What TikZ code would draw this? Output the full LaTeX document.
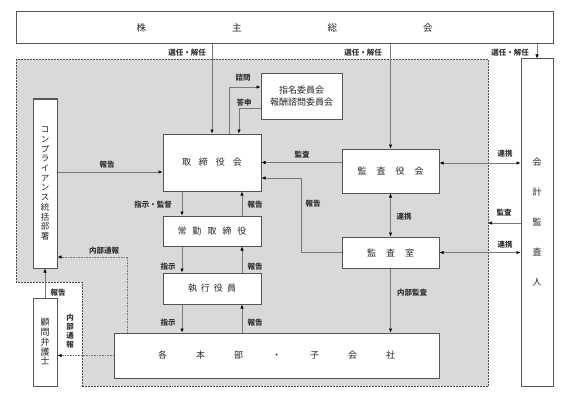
\documentclass[tikz,border=0pt]{standalone}
\usepackage{fontspec}
\setmainfont{Noto Sans CJK JP}
\usetikzlibrary{arrows.meta}
\definecolor{bggray}{RGB}{217,217,217}
\definecolor{boxline}{RGB}{85,85,85}
\definecolor{conline}{RGB}{120,120,120}
\begin{document}
\begin{tikzpicture}[x=1pt,y=-1pt,
  box/.style={draw=boxline, line width=1pt, fill=white, inner sep=0pt,
    font=\fontsize{9}{10}\selectfont, text=black!85},
  con/.style={draw=conline, line width=0.6pt},
  arr/.style={con, -{Latex[length=4pt,width=3.4pt,color=black]}},
  darr/.style={con, {Latex[length=4pt,width=3.4pt,color=black]}-{Latex[length=4pt,width=3.4pt,color=black]}},
  dotarr/.style={con, densely dotted, -{Latex[length=4pt,width=3.4pt,color=black]}},
  lbl/.style={font=\fontsize{7.5}{8}\selectfont\bfseries, text=black!80, inner sep=0pt},
  vlbl/.style={font=\fontsize{7.5}{9}\selectfont\bfseries, text=black!80, inner sep=0pt, align=center}]
\useasboundingbox (0,0) rectangle (569,401);
% gray region
\path[fill=bggray, draw=black!70, densely dotted, line width=0.5pt]
  (16,59) -- (488,59) -- (488,386) -- (82,386) -- (82,282) -- (16,282) -- cycle;
% boxes
\node[box, minimum width=537pt, minimum height=32pt, font=\fontsize{9.5}{10}\selectfont] (kabu) at (284.5,28)
  {株\hspace{86pt}主\hspace{86pt}総\hspace{86pt}会};
\node[box, minimum width=32pt, minimum height=327pt, align=center, font=\fontsize{9}{30}\selectfont] (kaikei) at (537,222.5)
  {会\\計\\監\\査\\人};
\node[box, minimum width=24pt, minimum height=169pt, align=center, font=\fontsize{8.5}{9.7}\selectfont] (comp) at (45,183.5)
  {コ\\ン\\プ\\ラ\\イ\\ア\\ン\\ス\\統\\括\\部\\署};
\node[box, minimum width=98pt, minimum height=57pt] (tori) at (212,162.5)
  {取\hspace{8pt}締\hspace{8pt}役\hspace{8pt}会};
\node[box, minimum width=81pt, minimum height=45pt, align=center, font=\fontsize{9}{12}\selectfont] (shimei) at (301.5,96.5)
  {指名委員会\\報酬諮問委員会};
\node[box, minimum width=97pt, minimum height=44pt] (kansa) at (390.5,171)
  {監\hspace{10pt}査\hspace{10pt}役\hspace{10pt}会};
\node[box, minimum width=97pt, minimum height=31pt] (kshitsu) at (390.5,252.5)
  {監\hspace{10pt}査\hspace{10pt}室};
\node[box, minimum width=98pt, minimum height=30pt] (jokin) at (212,231)
  {常\hspace{6pt}勤\hspace{6pt}取\hspace{6pt}締\hspace{6pt}役};
\node[box, minimum width=98pt, minimum height=31pt] (shikko) at (212,288.5)
  {執\hspace{4pt}行\hspace{4pt}役\hspace{4pt}員};
\node[box, minimum width=325pt, minimum height=45pt] (kaku) at (276.5,355.5)
  {各\hspace{29pt}本\hspace{29pt}部\hspace{29pt}・\hspace{29pt}子\hspace{29pt}会\hspace{29pt}社};
\node[box, minimum width=24pt, minimum height=88pt, align=center, font=\fontsize{9}{9.75}\selectfont] (komon) at (45,342)
  {顧\\問\\弁\\護\\士};
% coordinates
\coordinate (t1) at ([yshift=-9.5pt]tori.west);
\coordinate (t2) at ([yshift=-15.5pt]tori.east);
\coordinate (k1) at ([yshift=8pt]kansa.east);
\coordinate (g1) at (488,223);
\coordinate (c1) at ([yshift=-73.5pt]comp.east);
% connectors from shareholders
\draw[arr] (kabu.south -| tori.north) -- (tori.north);
\draw[arr] (kabu.south -| kansa.north) -- (kansa.north);
\draw[arr] (kabu.south -| kaikei.north) -- (kaikei.north);
\node[lbl, anchor=east] (l1) at (206,53) {選任・解任};
\node[lbl, anchor=east] (l2) at (382,53) {選任・解任};
\node[lbl, anchor=east] (l3) at (529,53) {選任・解任};
% committee
\draw[arr] ([xshift=17pt]tori.north) |- ([yshift=9.5pt]shimei.west);
\draw[arr] ([yshift=-11.5pt]shimei.west) -| ([xshift=27pt]tori.north);
\node[lbl] (l4) at (243,78) {諮問};
\node[lbl] (l5) at (244,103) {答申};
% compliance report
\draw[arr] (comp.east |- t1) -- (t1);
\node[lbl] (l6) at (107,165) {報告};
% audit
\draw[arr] (kansa.west |- tori.east) -- (tori.east);
\node[lbl] (l7) at (302,155) {監査};
\draw[arr] (kshitsu.west) -- ++(-40pt,0) |- (t2);
\node[lbl] (l8) at (313,204) {報告};
\draw[darr] (kansa.south) -- (kshitsu.north);
\node[lbl] (l9) at (404,217) {連携};
\draw[darr] (k1) -- (k1 -| kaikei.west);
\node[lbl] (l10) at (505,154) {連携};
\draw[arr] (kaikei.west |- g1) -- (g1);
\node[lbl] (l11) at (504,213) {監査};
\draw[darr] (kshitsu.east) -- (kshitsu.east -| kaikei.west);
\node[lbl] (l12) at (505,245) {連携};
\draw[arr] (kshitsu.south) -- (kshitsu.south |- kaku.north);
\node[lbl] (l13) at (412,293) {内部監査};
% chain of command
\draw[arr] ([xshift=-30pt]tori.south) -- ([xshift=-30pt]jokin.north);
\draw[arr] ([xshift=30pt]jokin.north) -- ([xshift=30pt]tori.south);
\node[lbl] (l14) at (153,205) {指示・監督};
\node[lbl] (l15) at (255,205) {報告};
\draw[arr] ([xshift=-30pt]jokin.south) -- ([xshift=-30pt]shikko.north);
\draw[arr] ([xshift=30pt]shikko.north) -- ([xshift=30pt]jokin.south);
\node[lbl] (l16) at (168,267) {指示};
\node[lbl] (l17) at (255,267) {報告};
\draw[arr] ([xshift=-30pt]shikko.south) -- ([xshift=-30pt]shikko.south |- kaku.north);
\draw[arr] ([xshift=30pt]shikko.south |- kaku.north) -- ([xshift=30pt]shikko.south);
\node[lbl] (l18) at (168,323) {指示};
\node[lbl] (l19) at (255,323) {報告};
% whistleblowing
\draw[dotarr] ([xshift=14pt]kaku.north west) |- (c1);
\node[lbl] (l20) at (104,251) {内部通報};
\draw[arr] (komon.north) -- (comp.south);
\node[lbl] (l21) at (58,293) {報告};
\draw[dotarr] (kaku.west) -- (kaku.west -| komon.east);
\node[vlbl] (l22) at (70,331) {内\\部\\通\\報};
\end{tikzpicture}
\end{document}
